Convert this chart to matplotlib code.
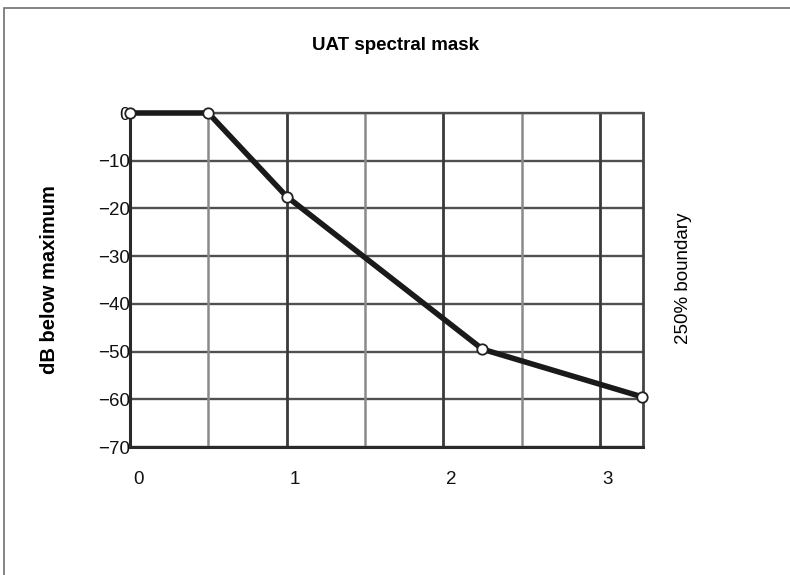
import matplotlib
matplotlib.use("Agg")
import matplotlib.pyplot as plt
import matplotlib.transforms as mtransforms
from matplotlib.patches import Rectangle
from matplotlib import font_manager

names = {f.name for f in font_manager.fontManager.ttflist}
fam = ['Liberation Sans Narrow', 'Liberation Sans', 'DejaVu Sans'] if 'Liberation Sans Narrow' in names else ['Liberation Sans', 'DejaVu Sans']
plt.rcParams['font.family'] = fam
plt.rcParams['axes.unicode_minus'] = True

# Data
freq_mhz = [0.0, 0.5, 1.0, 2.25, 3.27]
db_below = [0.0, 0.0, -17.5, -49.5, -59.5]
x_ticks = [0, 1, 2, 3]
x_minor = [0.5, 1.5, 2.5]
y_ticks = [0, -10, -20, -30, -40, -50, -60, -70]

title = "UAT spectral mask"
ylabel = "dB below maximum"
right_label = "250% boundary"

fig = plt.figure(figsize=(7.9, 5.75), dpi=100)
fig.patch.set_facecolor('white')
# figure frame (top & left visible)
fig.patches.append(Rectangle((4/790, -0.1), 1.2, 1.1 - 8/575, transform=fig.transFigure,
                             fill=False, edgecolor='#6f6f6f', linewidth=1.2))

ax = fig.add_axes([130/790, 1 - 447/575, (643 - 130)/790, (447 - 113)/575])
ax.set_xlim(0, 3.275)
ax.set_ylim(-70, 0)

# grid
for yv in y_ticks:
    ax.axhline(yv, color='#505050', lw=1.7, zorder=1)
for xv in x_ticks[1:]:
    ax.axvline(xv, color='#3a3a3a', lw=2.0, zorder=1)
for xv in x_minor:
    ax.axvline(xv, color='#8a8a8a', lw=1.8, zorder=1)

ax.plot(freq_mhz, db_below, color='#1a1a1a', lw=4.0, zorder=3,
        marker='o', markersize=7.5, markerfacecolor='white',
        markeredgecolor='#222222', markeredgewidth=1.3, clip_on=False)

for s in ['left', 'bottom']:
    ax.spines[s].set_color('#2a2a2a')
    ax.spines[s].set_linewidth(2.2)
ax.spines['right'].set_color('#444444')
ax.spines['right'].set_linewidth(2.0)
ax.spines['top'].set_color('#505050')
ax.spines['top'].set_linewidth(1.7)

ax.set_xticks(x_ticks)
ax.set_xticklabels([str(v) for v in x_ticks])
ax.set_yticks(y_ticks)
ax.set_yticklabels([('\u2212' + str(-v)) if v < 0 else str(v) for v in y_ticks])
ax.tick_params(axis='both', length=0, labelsize=13.5, colors='#111111')
ax.tick_params(axis='y', pad=0)
ax.tick_params(axis='x', pad=17)
off = mtransforms.ScaledTranslation(8/100, 0, fig.dpi_scale_trans)
for lab in ax.get_xticklabels():
    lab.set_transform(lab.get_transform() + off)

fig.text(395/790, 1 - 45/575, title, ha='center', va='center', fontsize=13.5, fontweight='bold')
fig.text(50/790, 1 - 280/575, ylabel, ha='center', va='center', rotation=90, fontsize=14.5, fontweight='bold')
fig.text(683/790, 1 - 278/575, right_label, ha='center', va='center', rotation=90, fontsize=13.5)

fig.savefig('out.png', dpi=100, facecolor='white')
